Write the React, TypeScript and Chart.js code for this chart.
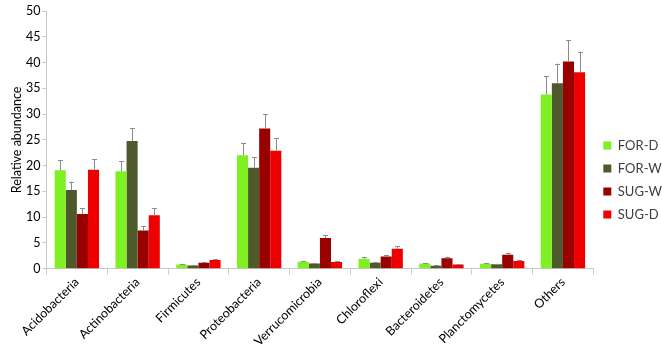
import React, { useEffect, useRef } from "react";
import { Chart, registerables } from "chart.js";

Chart.register(...registerables);

const categories = [
  "Acidobacteria",
  "Actinobacteria",
  "Firmicutes",
  "Proteobacteria",
  "Verrucomicrobia",
  "Chloroflexi",
  "Bacteroidetes",
  "Planctomycetes",
  "Others",
];

const seriesNames = ["FOR-D", "FOR-W", "SUG-W", "SUG-D"];
const seriesColors = ["#7ff024", "#4e5a2b", "#990000", "#ee0000"];

const forD = [19.1, 18.9, 0.85, 22.0, 1.35, 1.95, 1.0, 0.95, 33.8];
const forW = [15.3, 24.8, 0.65, 19.6, 1.0, 1.15, 0.6, 0.9, 36.0];
const sugW = [10.6, 7.4, 1.15, 27.2, 5.95, 2.4, 2.05, 2.7, 40.2];
const sugD = [19.2, 10.4, 1.7, 22.9, 1.3, 3.9, 0.85, 1.5, 38.1];

const forDErr = [2.0, 2.0, 0.1, 2.3, 0.2, 0.3, 0.1, 0.1, 3.6];
const forWErr = [1.6, 2.5, 0.1, 2.0, 0.1, 0.15, 0.1, 0.1, 3.8];
const sugWErr = [1.2, 0.8, 0.15, 2.8, 0.55, 0.3, 0.3, 0.3, 4.2];
const sugDErr = [2.0, 1.3, 0.15, 2.4, 0.15, 0.5, 0.1, 0.25, 4.0];

const yTicksMin = 0;
const yTicksMax = 50;
const yTickStep = 5;

const seriesValues = [forD, forW, sugW, sugD];
const seriesErrors = [forDErr, forWErr, sugWErr, sugDErr];

const errorBarPlugin = {
  id: "errorBars",
  afterDatasetsDraw(chart: any) {
    const ctx = chart.ctx;
    const yScale = chart.scales.y;
    ctx.save();
    ctx.strokeStyle = "#8c8c8c";
    ctx.lineWidth = 1;
    chart.data.datasets.forEach((ds: any, di: number) => {
      const meta = chart.getDatasetMeta(di);
      const errs = ds.errors as number[];
      meta.data.forEach((bar: any, i: number) => {
        const v = ds.data[i];
        const e = errs[i];
        const x = Math.round(bar.x) + 0.5;
        const y0 = yScale.getPixelForValue(v);
        const y1 = yScale.getPixelForValue(v + e);
        ctx.beginPath();
        ctx.moveTo(x, y0);
        ctx.lineTo(x, y1);
        ctx.moveTo(x - 2.5, Math.round(y1) + 0.5);
        ctx.lineTo(x + 2.5, Math.round(y1) + 0.5);
        ctx.stroke();
      });
    });
    ctx.restore();
  },
};

export default function App() {
  const canvasRef = useRef<HTMLCanvasElement | null>(null);

  useEffect(() => {
    document.body.style.margin = "0";
    const canvas = canvasRef.current;
    if (!canvas) return;
    const font = "Lato, 'Open Sans', sans-serif";
    const chart = new Chart(canvas, {
      type: "bar",
      data: {
        labels: categories,
        datasets: seriesNames.map((name, i) => ({
          label: name,
          data: seriesValues[i],
          errors: seriesErrors[i],
          backgroundColor: seriesColors[i],
          borderWidth: 0,
          categoryPercentage: 0.73,
          barPercentage: 1.0,
        })) as any,
      },
      options: {
        animation: false,
        responsive: false,
        maintainAspectRatio: false,
        layout: { padding: { top: 11, right: -10, bottom: 4, left: 9 } },
        plugins: {
          legend: {
            position: "right",
            align: "center",
            labels: {
              boxWidth: 8,
              boxHeight: 8,
              padding: 10,
              color: "#404040",
              font: { family: font, size: 13 },
            },
          },
          tooltip: { enabled: false },
        },
        scales: {
          x: {
            grid: {
              display: true,
              offset: true,
              drawOnChartArea: false,
              drawTicks: true,
              tickLength: 6,
              color: "#d0d0d0",
            },
            border: { display: true, color: "#c8c8c8" },
            ticks: {
              minRotation: 45,
              maxRotation: 45,
              autoSkip: false,
              color: "#000000",
              padding: 0,
              font: { family: font, size: 12.5 },
            },
          },
          y: {
            min: yTicksMin,
            max: yTicksMax,
            grid: {
              display: true,
              drawOnChartArea: false,
              drawTicks: true,
              tickLength: 4,
              color: "#c8c8c8",
            },
            border: { display: true, color: "#c8c8c8" },
            ticks: {
              stepSize: yTickStep,
              color: "#000000",
              padding: 2,
              font: { family: font, size: 12.5 },
            },
            title: {
              display: true,
              text: "Relative abundance",
              color: "#000000",
              padding: { top: 0, bottom: 0 },
              font: { family: font, size: 12.5 },
            },
          },
        },
      },
      plugins: [errorBarPlugin],
    });
    return () => chart.destroy();
  }, []);

  return (
    <div style={{ position: "absolute", left: 0, top: 0, width: 662, height: 353 }}>
      <canvas ref={canvasRef} width={662} height={353} style={{ width: 662, height: 353 }} />
    </div>
  );
}
